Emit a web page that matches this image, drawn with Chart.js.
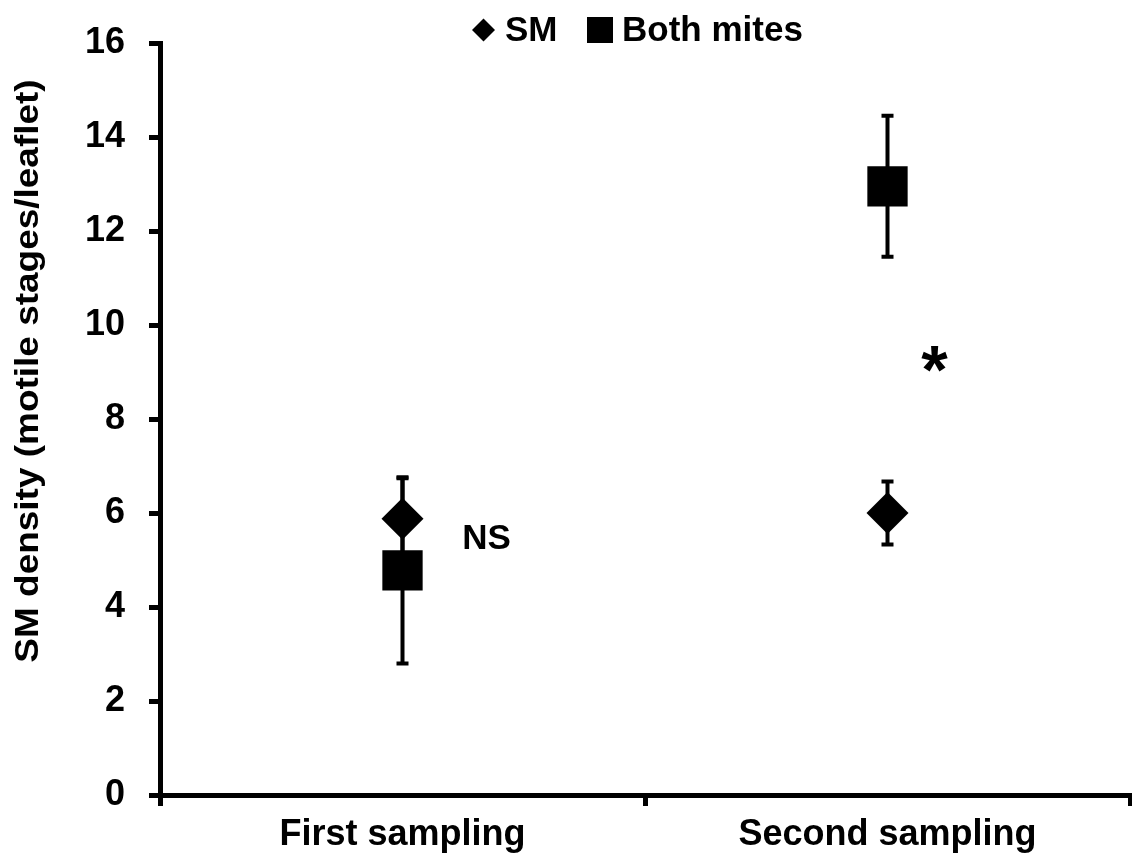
<!DOCTYPE html>
<html><head><meta charset="utf-8">
<script src="https://cdn.jsdelivr.net/npm/chart.js@4/dist/chart.umd.min.js"></script>
<style>html,body{margin:0;padding:0;background:#fff}</style>
</head><body>
<canvas id="c" width="1132" height="860"></canvas>
<script>
const categories = ['First sampling', 'Second sampling'];
const seriesNames = ['SM', 'Both mites'];
const smMean = [5.88, 6.0];
const smErr = [0.86, 0.67];
const bothMean = [4.78, 12.95];
const bothErr = [1.98, 1.5];
const yTickValues = [0, 2, 4, 6, 8, 10, 12, 14, 16];
const yTitle = 'SM density (motile stages/leaflet)';
const sigLabels = ['NS', '*'];
const sigLevels = [5.45, 8.95];

const FONT = '"Liberation Sans", Arial, sans-serif';

const errorBarPlugin = {
  id: 'errorBars',
  beforeDatasetsDraw(chart) {
    const ctx = chart.ctx, ys = chart.scales.y, xs = chart.scales.x;
    ctx.save();
    ctx.strokeStyle = '#000';
    ctx.lineWidth = 4;
    chart.data.datasets.forEach(ds => {
      ds.data.forEach((v, i) => {
        const e = ds.errors[i];
        const x = xs.getPixelForValue(i);
        const yt = ys.getPixelForValue(v + e), yb = ys.getPixelForValue(v - e);
        ctx.beginPath();
        ctx.moveTo(x, yt); ctx.lineTo(x, yb);
        ctx.stroke();
        ctx.beginPath();
        ctx.moveTo(x - 6, yt); ctx.lineTo(x + 6, yt);
        ctx.moveTo(x - 6, yb); ctx.lineTo(x + 6, yb);
        ctx.stroke();
      });
    });
    ctx.restore();
  },
  afterDraw(chart) {
    const ctx = chart.ctx, ys = chart.scales.y, xs = chart.scales.x;
    ctx.save();
    ctx.fillStyle = '#000';
    ctx.textAlign = 'center';
    ctx.textBaseline = 'middle';
    ctx.font = 'bold 35px ' + FONT;
    ctx.fillText(sigLabels[0], xs.getPixelForValue(0) + 84, ys.getPixelForValue(sigLevels[0]));
    ctx.font = 'bold 68px ' + FONT;
    ctx.fillText(sigLabels[1], xs.getPixelForValue(1) + 47, ys.getPixelForValue(sigLevels[1]));
    // y title
    ctx.save();
    ctx.translate(29, 371);
    ctx.rotate(-Math.PI / 2);
    ctx.scale(1.12, 1);
    ctx.font = 'bold 33px ' + FONT;
    ctx.textAlign = 'center';
    ctx.textBaseline = 'middle';
    ctx.fillText(yTitle, 0, 0);
    ctx.restore();
    // legend
    ctx.font = 'bold 35px ' + FONT;
    ctx.textAlign = 'left';
    ctx.textBaseline = 'middle';
    const ly = 30;
    let x = 472;
    ctx.beginPath();
    ctx.moveTo(x, ly); ctx.lineTo(x + 11.5, ly - 11.5); ctx.lineTo(x + 23, ly); ctx.lineTo(x + 11.5, ly + 11.5); ctx.closePath();
    ctx.fill();
    ctx.fillText(seriesNames[0], x + 33, ly + 1);
    x = 587;
    ctx.fillRect(x, ly - 13, 26, 26);
    ctx.fillText(seriesNames[1], x + 35, ly + 1);
    ctx.restore();
  }
};

new Chart(document.getElementById('c'), {
  type: 'line',
  data: {
    labels: categories,
    datasets: [
      { label: seriesNames[0], data: smMean, errors: smErr, showLine: false,
        pointStyle: 'rectRot', pointRadius: 21, pointHoverRadius: 21,
        backgroundColor: '#000', borderColor: '#000', borderWidth: 0 },
      { label: seriesNames[1], data: bothMean, errors: bothErr, showLine: false,
        pointStyle: 'rect', pointRadius: 28.5, pointHoverRadius: 28.5,
        backgroundColor: '#000', borderColor: '#000', borderWidth: 0 }
    ]
  },
  options: {
    responsive: false,
    animation: false,
    devicePixelRatio: 1,
    layout: { autoPadding: false, padding: { top: 43, right: 2, left: 0, bottom: 0 } },
    plugins: { legend: { display: false }, tooltip: { enabled: false } },
    scales: {
      x: {
        type: 'category',
        offset: true,
        grid: { offset: true, drawOnChartArea: false, drawTicks: true, tickLength: 11, color: '#000', lineWidth: 5 },
        border: { display: true, color: '#000', width: 5 },
        ticks: { color: '#000', font: { family: FONT, size: 36, weight: 'bold' }, padding: 7, maxRotation: 0 },
        afterFit(s) { s.height = 65; s.paddingLeft = 0; s.paddingRight = 0; }
      },
      y: {
        min: 0, max: 16,
        afterBuildTicks(s) { s.ticks = yTickValues.map(v => ({ value: v })); },
        grid: { drawOnChartArea: false, drawTicks: true, tickLength: 11, color: '#000', lineWidth: 5 },
        border: { display: true, color: '#000', width: 5 },
        ticks: { color: '#000', font: { family: FONT, size: 36, weight: 'bold' }, padding: 24 },
        afterFit(s) { s.width = 160; s.paddingTop = 0; s.paddingBottom = 0; }
      }
    }
  },
  plugins: [errorBarPlugin]
});
</script>
</body></html>
